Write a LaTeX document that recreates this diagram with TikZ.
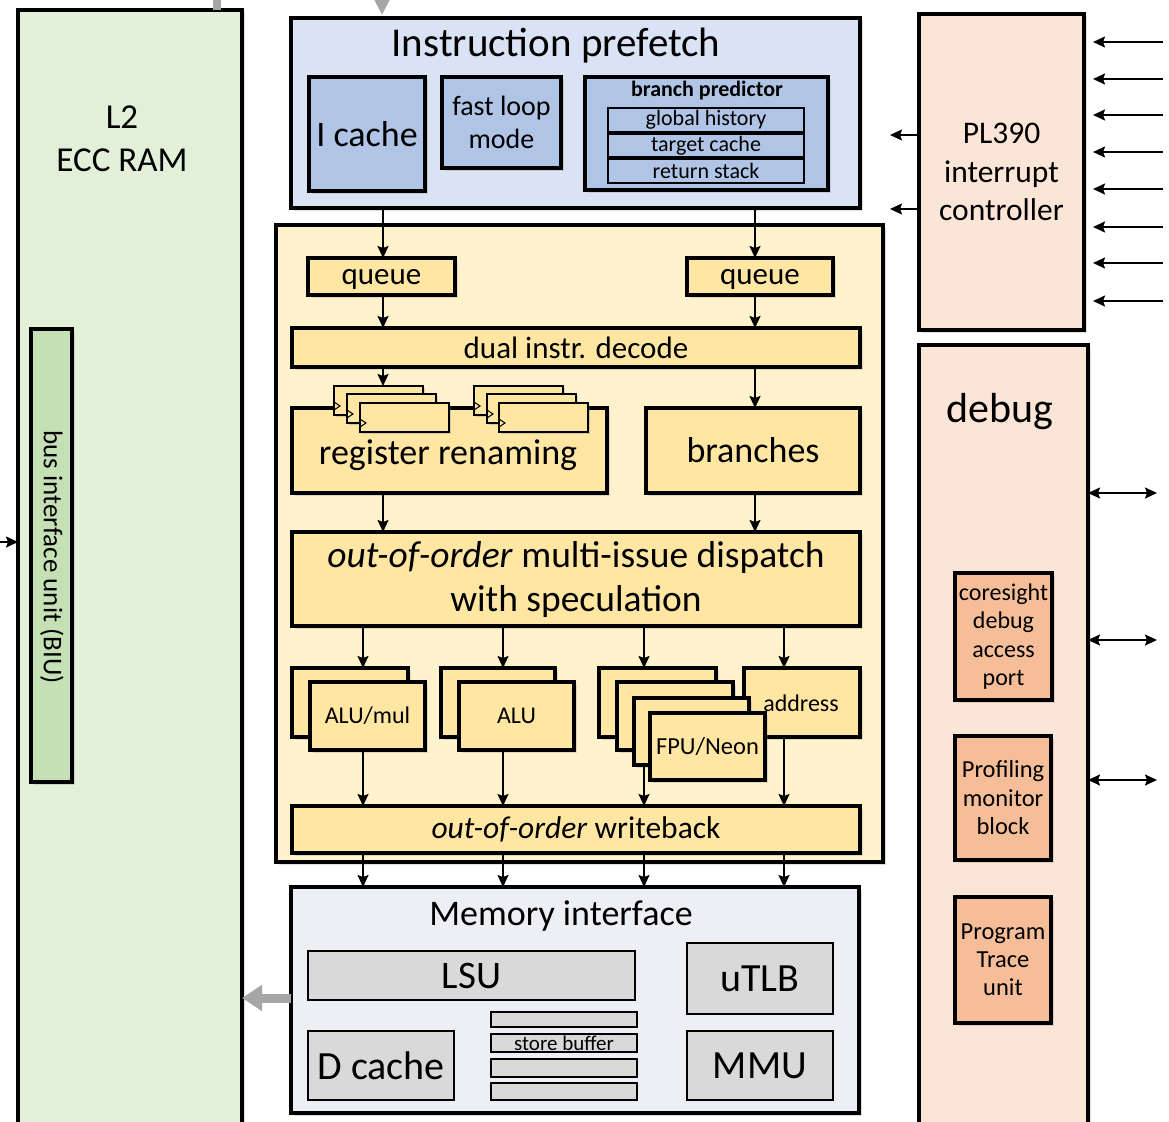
\documentclass[tikz,border=0pt]{standalone}
\usepackage{fontspec}
\setmainfont{Carlito}
\usetikzlibrary{arrows.meta,shadows,calc}
\definecolor{l2c}{HTML}{E2F0D9}
\definecolor{biuc}{HTML}{C5E0B4}
\definecolor{prec}{HTML}{DAE3F3}
\definecolor{bluec}{HTML}{B0C4E6}
\definecolor{corec}{HTML}{FFF2CC}
\definecolor{yelc}{HTML}{FFE7A3}
\definecolor{memc}{HTML}{EDEFF4}
\definecolor{grayc}{HTML}{D9D9D9}
\definecolor{pinkc}{HTML}{FBE5D6}
\definecolor{salc}{HTML}{F5BE98}
\definecolor{garc}{HTML}{A6A6A6}
\newcommand\fs[2]{\fontsize{#1}{#2}\selectfont}
\newcommand\bx[7]{\node[#6, minimum width={(#4)-(#2)}, minimum height={(#5)-(#3)}] (#1) at ({((#2)+(#4))/2},{((#3)+(#5))/2}) {#7};}
\newcommand\regbox[3]{\bx{#1}{#2}{#3}{#2+89}{#3+29}{regb}{}
  \draw[line width=1pt] ($(#1.south west)+(0,-13)$) -- ++(6,4) -- ++(-6,4);}
\begin{document}
\begin{tikzpicture}[x=1pt,y=-1pt,
  box/.style={draw, line width=3.2pt, inner sep=0pt, outer sep=0pt, align=center,
    drop shadow={shadow xshift=2.5pt,shadow yshift=-2.5pt,opacity=0.25}},
  sub/.style={draw, line width=2.4pt, inner sep=0pt, outer sep=0pt, align=center},
  regb/.style={draw, line width=2.5pt, inner sep=0pt, outer sep=0pt, fill=yelc,
    drop shadow={shadow xshift=2pt,shadow yshift=-2pt,opacity=0.3}},
  txt/.style={inner sep=0pt, align=center},
  arr/.style={-{Stealth[length=12pt,width=11pt,inset=2pt]}, line width=1.9pt},
  darr/.style={{Stealth[length=12pt,width=11pt,inset=2pt]}-{Stealth[length=12pt,width=11pt,inset=2pt]}, line width=1.9pt},
  garr/.style={-{Triangle[length=20pt,width=25pt]}, line width=9pt, draw=garc}]
\useasboundingbox (0,0) rectangle (1169,1121);
\clip (0,0) rectangle (1169,1121);
\fill[white] (0,0) rectangle (1169,1121);

% L2
\bx{L2}{18}{10}{242}{1140}{box,fill=l2c}{}
\node[txt, font={\fs{35}{43}}] (l2t) at (122,139) {L2\\ECC RAM};
\bx{biu}{31}{329}{72}{782}{box,fill=biuc}{}
\node[txt, rotate=-90, font={\fs{27}{30}}] (biut) at (52,557) {bus interface unit (BIU)};

% Instruction prefetch
\bx{pre}{291}{18}{860}{208}{box,fill=prec}{}
\node[txt, font={\fs{41}{48}}] (pret) at (556,46) {Instruction prefetch};
\bx{ic}{309}{77}{425}{191}{box,fill=bluec,font={\fs{36}{43}}}{I cache}
\bx{flm}{442}{77}{561}{168}{box,fill=bluec,font={\fs{28}{33}}}{fast loop\\mode}
\bx{bp}{585}{77}{828}{190}{box,fill=bluec}{}
\node[txt, font={\fs{22}{26}\bfseries}] (bpt) at (707,91) {branch predictor};
\bx{gh}{608}{108}{804}{132}{sub,fill=bluec,font={\fs{22}{26}}}{global history}
\bx{tc}{608}{134}{804}{157}{sub,fill=bluec,font={\fs{22}{26}}}{target cache}
\bx{rs}{608}{159}{804}{183}{sub,fill=bluec,font={\fs{22}{26}}}{return stack}

% core
\bx{core}{276}{225}{883}{862}{box,fill=corec}{}
\bx{qL}{308}{258}{455}{295}{box,fill=yelc,font={\fs{31}{37}},text height=22pt,text depth=6pt}{queue}
\bx{qR}{687}{258}{833}{295}{box,fill=yelc,font={\fs{31}{37}},text height=22pt,text depth=6pt}{queue}
\bx{dec}{292}{328}{860}{367}{box,fill=yelc,font={\fs{31}{37}}}{dual instr. decode}
\bx{rr}{292}{408}{607}{493}{box,fill=yelc}{}
\bx{br}{646}{408}{860}{493}{box,fill=yelc,font={\fs{36}{43}}}{branches}
\regbox{r11}{334}{386}
\regbox{r12}{347}{394}
\regbox{r13}{360}{403}
\regbox{r21}{474}{386}
\regbox{r22}{487}{394}
\regbox{r23}{499}{403}
\node[txt, font={\fs{36}{43}}] (rrt) at (448,455) {register renaming};
\bx{disp}{292}{532}{860}{626}{box,fill=yelc,font={\fs{37.5}{44}}}{\textit{out-of-order} multi-issue dispatch\\with speculation}
\bx{amB}{292}{668}{408}{737}{box,fill=yelc}{}
\bx{amF}{310}{682}{425}{750}{box,fill=yelc,font={\fs{24}{28}}}{ALU/mul}
\bx{aB}{441}{668}{555}{737}{box,fill=yelc}{}
\bx{aF}{459}{682}{574}{750}{box,fill=yelc,font={\fs{24}{28}}}{ALU}
\bx{addr}{744}{668}{860}{737}{box,fill=yelc}{}
\node[txt, font={\fs{24}{28}}] (addrt) at (801,703) {address};
\bx{f1}{599}{668}{716}{737}{box,fill=yelc}{}
\bx{f2}{617}{682}{733}{750}{box,fill=yelc}{}
\bx{f3}{634}{698}{749}{765}{box,fill=yelc}{}
\bx{f4}{650}{713}{765}{780}{box,fill=yelc,font={\fs{24.5}{28}}}{FPU/Neon}
\bx{wb}{292}{806}{860}{853}{box,fill=yelc,font={\fs{31.5}{37}}}{\textit{out-of-order} writeback}

% memory interface
\bx{mem}{291}{887}{859}{1113}{box,fill=memc}{}
\node[txt, font={\fs{36}{43}}] (memt) at (561,916) {Memory interface};
\bx{lsu}{308}{951}{635}{1000}{sub,fill=grayc,font={\fs{39}{46}}}{LSU}
\bx{utlb}{687}{943}{833}{1014}{sub,fill=grayc,font={\fs{40}{48}}}{uTLB}
\bx{dc}{308}{1031}{454}{1100}{sub,fill=grayc,font={\fs{40}{48}}}{D cache}
\bx{mmu}{687}{1031}{833}{1100}{sub,fill=grayc,font={\fs{40}{48}}}{MMU}
\bx{sb1}{491}{1012}{637}{1027}{sub,fill=grayc}{}
\bx{sb2}{491}{1034}{637}{1052}{sub,fill=grayc,font={\fs{21}{24}}}{store buffer}
\bx{sb3}{491}{1059}{637}{1077}{sub,fill=grayc}{}
\bx{sb4}{491}{1083}{637}{1100}{sub,fill=grayc}{}

% PL390 and debug
\bx{pl}{919}{14}{1084}{330}{box,fill=pinkc,font={\fs{31.5}{38.5}}}{PL390\\interrupt\\controller}
\bx{dbg}{919}{345}{1088}{1140}{box,fill=pinkc}{}
\node[txt, font={\fs{42}{50}}] (dbgt) at (1000,412) {debug};
\bx{cs}{955}{573}{1052}{700}{box,fill=salc,font={\fs{24}{28.5}}}{coresight\\debug\\access\\port}
\bx{pm}{955}{736}{1051}{860}{box,fill=salc,font={\fs{24.5}{28.5}}}{Profiling\\monitor\\block}
\bx{pt}{955}{897}{1051}{1023}{box,fill=salc,font={\fs{24.5}{28}}}{Program\\Trace\\unit}

% columns
\coordinate (cL) at (383,0);
\coordinate (cR) at (755,0);
\coordinate (c1) at (363,0);
\coordinate (c2) at (503,0);
\coordinate (c3) at (644,0);
\coordinate (c4) at (784,0);

\draw[arr] (pre.south -| cL) -- (qL.north -| cL);
\draw[arr] (pre.south -| cR) -- (qR.north -| cR);
\draw[arr] (qL.south -| cL) -- (dec.north -| cL);
\draw[arr] (qR.south -| cR) -- (dec.north -| cR);
\draw[arr] (dec.south -| cL) -- (r11.north -| cL);
\draw[arr] (dec.south -| cR) -- (br.north -| cR);
\draw[arr] (rr.south -| cL) -- (disp.north -| cL);
\draw[arr] (br.south -| cR) -- (disp.north -| cR);

\draw[arr] (disp.south -| c1) -- (amB.north -| c1);
\draw[arr] (disp.south -| c2) -- (aB.north -| c2);
\draw[arr] (disp.south -| c3) -- (f1.north -| c3);
\draw[arr] (disp.south -| c4) -- (addr.north -| c4);
\draw[arr] (amF.south -| c1) -- (wb.north -| c1);
\draw[arr] (aF.south -| c2) -- (wb.north -| c2);
\draw[arr] (f3.south -| c3) -- (wb.north -| c3);
\draw[arr] (addr.south -| c4) -- (wb.north -| c4);
\draw[arr] (wb.south -| c1) -- (mem.north -| c1);
\draw[arr] (wb.south -| c2) -- (mem.north -| c2);
\draw[arr] (wb.south -| c3) -- (mem.north -| c3);
\draw[arr] (wb.south -| c4) -- (mem.north -| c4);

% gray connections
\coordinate (gy) at (0,998);
\draw[garr] (mem.west |- gy) -- (L2.east |- gy);
\coordinate (gtop) at (217,0);
\draw[line width=8pt, draw=garc] (gtop) -- (L2.north -| gtop);
\coordinate (gin) at (382,-1);
\coordinate (ginE) at (382,15);
\draw[-{Triangle[length=15pt,width=14pt]}, line width=4pt, draw=garc] (gin) -- (ginE);

% left input
\coordinate (lin) at (0,542);
\draw[arr] (lin) -- (L2.west |- lin);

% PL390 in/out
\foreach \yy [count=\i] in {42,79,115,152,189,227,263,301} {
  \coordinate (ir\i) at (1163,\yy);
  \draw[arr, shorten >=9pt] (ir\i) -- (pl.east |- ir\i);
}
\coordinate (po1) at (890,135);
\coordinate (po2) at (890,209);
\draw[arr] (pl.west |- po1) -- (po1);
\draw[arr] (pl.west |- po2) -- (po2);

% debug ports
\coordinate (dd1) at (1157,493);
\coordinate (dd2) at (1157,640);
\coordinate (dd3) at (1157,780);
\draw[darr] (dbg.east |- dd1) -- (dd1);
\draw[darr] (dbg.east |- dd2) -- (dd2);
\draw[darr] (dbg.east |- dd3) -- (dd3);
\end{tikzpicture}
\end{document}
